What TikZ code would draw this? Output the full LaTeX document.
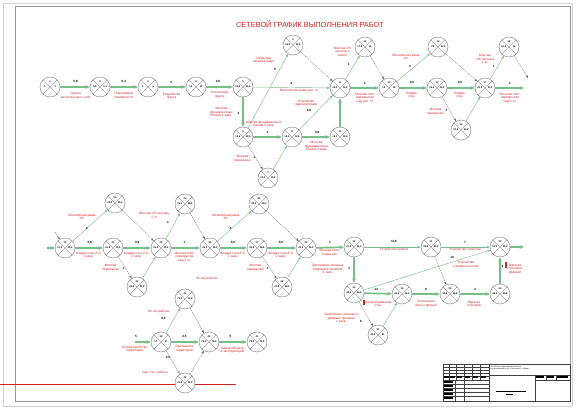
\documentclass[tikz,border=0pt]{standalone}
\usepackage{fontspec}
\setmainfont{Liberation Sans}
\usetikzlibrary{arrows.meta}
\definecolor{cgreen}{RGB}{120,190,135}
\definecolor{cred}{RGB}{210,35,35}
\definecolor{cgray}{RGB}{105,105,105}
\definecolor{frame}{RGB}{150,150,150}
\newcounter{lbc}
\newcommand\lbl[2]{\stepcounter{lbc}\node[lblst] (lb\thelbc) at (#1) {#2};}
\newcommand\dur[2]{\stepcounter{lbc}\node[durst] (du\thelbc) at (#1) {#2};}
\tikzset{
  evnum/.style={font=\fontsize{3.5}{3.7}\selectfont\bfseries, inner sep=0pt},
  ev/.style n args={3}{circle, draw=cgray, line width=0.5pt, minimum size=10mm, inner sep=0pt, fill=white,
    path picture={
      \draw[cgray, line width=0.4pt] (path picture bounding box.north west) -- (path picture bounding box.south east)
        (path picture bounding box.north east) -- (path picture bounding box.south west);
      \node[evnum] at ([yshift=2.7mm]path picture bounding box.center) {#1};
      \node[evnum] at ([xshift=-2.6mm]path picture bounding box.center) {#2};
      \node[evnum] at ([xshift=2.6mm]path picture bounding box.center) {#3};
    }},
  crit/.style={draw=cgreen, line width=2.4pt, -{Stealth[length=2.2mm,width=1.9mm]}},
  work/.style={draw=cgreen, line width=0.6pt, -{Stealth[length=1.6mm,width=1.2mm]}},
  dep/.style={draw=cgray, line width=0.4pt, dash pattern=on 2pt off 1pt, -{Stealth[length=1.5mm,width=1.1mm]}},
  lblst/.style={text=cred, font=\fontsize{4.6}{5.2}\selectfont, align=center, inner sep=0pt},
  durst/.style={font=\fontsize{4.4}{5}\selectfont\bfseries, inner sep=0pt},
  tb/.style={line width=0.35pt, draw=black!75},
}
\begin{document}
\begin{tikzpicture}[x=0.5mm,y=-0.5mm]
\useasboundingbox (0,0) rectangle (576,410);
\fill[white] (0,0) rectangle (576,410);
% frames
\draw[line width=1.6pt, gray!35] (3.5,3.5) rectangle (572.5,406.5);
\draw[line width=0.6pt, frame] (15.5,6) rectangle (570,401.5);
% red line
\draw[cred, line width=0.4pt] (0,384) -- (236,384);
% title
\node[text=cred, font=\fontsize{10.5}{12}\selectfont] (title) at (310,24) {СЕТЕВОЙ ГРАФИК ВЫПОЛНЕНИЯ РАБОТ};

% ---------- events, row 1
\node[ev={1}{0}{0}] (n1) at (50,87) {};
\node[ev={2}{5,6}{5,6}] (n2) at (100,87) {};
\node[ev={3}{6}{6}] (n3) at (148,87) {};
\node[ev={4}{10}{10}] (n4) at (196,87) {};
\node[ev={5}{10,6}{10,6}] (n5) at (243,87) {};
\node[ev={9}{15,6}{22,6}] (n6) at (293,45) {};
\node[ev={6}{12,6}{12,6}] (n7) at (243,137) {};
\node[ev={7}{13,6}{14,6}] (n7b) at (268,178) {};
\node[ev={8}{14,6}{14,6}] (n8) at (292,137) {};
\node[ev={10}{15,4}{15,4}] (n9) at (340,137) {};
\node[ev={11}{16,2}{16,2}] (n10) at (340,88) {};
\node[ev={12}{17,2}{19}] (n11) at (365,47) {};
\node[ev={13}{19}{19}] (n12) at (389,88) {};
\node[ev={14}{23}{24,2}] (n13) at (438,47) {};
\node[ev={15}{19,6}{19,6}] (n14) at (437,88) {};
\node[ev={16}{20,6}{20,2}] (n15) at (461,130) {};
\node[ev={17}{20,2}{20,2}] (n16) at (485,88) {};
\node[ev={18}{21,2}{22}] (n17) at (509,47) {};
\coordinate (e16) at (524,88);
\coordinate (e17) at (528,78);

% ---------- events, row 2
\coordinate (s2) at (47,248);
\coordinate (s2b) at (55,232);
\node[ev={19}{21,2}{21,2}] (a) at (65,248) {};
\node[ev={20}{25,2}{25,2}] (c) at (115,203) {};
\node[ev={21}{21,8}{21,8}] (b) at (113,248) {};
\node[ev={22}{22,8}{23,4}] (d) at (137,287) {};
\node[ev={23}{25,2}{25,2}] (e) at (161,248) {};
\node[ev={24}{26,2}{26,2}] (f) at (185,204) {};
\node[ev={25}{26,2}{26,2}] (g) at (210,248) {};
\node[ev={26}{30,2}{30,2}] (i) at (259,204) {};
\node[ev={27}{26,8}{26,8}] (h) at (257,248) {};
\node[ev={28}{27,8}{28,4}] (j) at (282,287) {};
\node[ev={29}{30,2}{30,2}] (k) at (306,248) {};
\node[ev={30}{31,2}{31,2}] (l) at (354,247) {};
\node[ev={31}{42,8}{43,2}] (m) at (431,247) {};
\node[ev={32}{50,2}{50,2}] (nn) at (500,247) {};
\node[ev={33}{34,2}{34,2}] (o) at (354,293) {};
\node[ev={34}{46,2}{46,2}] (p) at (402,294) {};
\node[ev={35}{42,8}{42,8}] (q) at (450,294) {};
\node[ev={36}{46,8}{46,8}] (r) at (500,294) {};
\node[ev={37}{40,2}{41}] (s) at (378,335) {};
\coordinate (e2) at (524,247);

% ---------- events, bottom group
\coordinate (s3) at (135,342);
\node[ev={39}{73,8}{73,8}] (t) at (185,299) {};
\node[ev={38}{57}{57}] (u) at (161,342) {};
\node[ev={40}{74,3}{74,3}] (v) at (209,342) {};
\node[ev={41}{79,3}{79,3}] (w) at (257,342) {};
\node[ev={42}{74,3}{74,3}] (x) at (185,383) {};

% ---------- connectors, row 1
\draw[crit] (n1) -- (n2);
\draw[crit] (n2) -- (n3);
\draw[crit] (n3) -- (n4);
\draw[crit] (n4) -- (n5);
\draw[work] (n5) -- (n10);
\draw[crit] (n5) -- (n7);
\draw[work] (n7) -- (n6);
\draw[dep] (n6) -- (n10);
\draw[crit] (n7) -- (n8);
\draw[dep] (n7) -- (n7b);
\draw[work] (n7b) -- (n8);
\draw[crit] (n8) -- (n9);
\draw[work] (n8) -- (n10);
\draw[crit] (n9) -- (n10);
\draw[work] (n10) -- (n11);
\draw[dep] (n11) -- (n12);
\draw[crit] (n10) -- (n12);
\draw[work] (n12) -- (n13);
\draw[dep] (n13) -- (n16);
\draw[crit] (n12) -- (n14);
\draw[crit] (n14) -- (n16);
\draw[dep] (n14) -- (n15);
\draw[work] (n15) -- (n16);
\draw[work] (n16) -- (n17);
\draw[dep] (n17) -- (e17);
\draw[crit] (n16) -- (e16);

% ---------- connectors, row 2
\draw[crit] (s2) -- (a);
\draw[dep] (s2b) -- (a);
\draw[work] (a) -- (c);
\draw[dep] (c) -- (e);
\draw[crit] (a) -- (b);
\draw[crit] (b) -- (e);
\draw[dep] (b) -- (d);
\draw[work] (d) -- (e);
\draw[work] (e) -- (f);
\draw[dep] (f) -- (g);
\draw[crit] (e) -- (g);
\draw[work] (g) -- (i);
\draw[dep] (i) -- (k);
\draw[crit] (g) -- (h);
\draw[crit] (h) -- (k);
\draw[dep] (h) -- (j);
\draw[work] (j) -- (k);
\draw[crit] (k) -- (l);
\draw[work] (l) -- (m);
\draw[work] (m) -- (nn);
\draw[dep] (m) -- (q);
\draw[crit] (l) -- (o);
\draw[work] (o) -- (nn);
\draw[crit] (o) -- (p);
\draw[dep] (o) -- (s);
\draw[work] (s) -- (p);
\draw[crit] (p) -- (q);
\draw[crit] (q) -- (r);
\draw[crit] (r) -- (nn);
\draw[crit] (nn) -- (e2);

% ---------- connectors, bottom
\draw[crit] (s3) -- (u);
\draw[work] (u) -- (t);
\draw[dep] (t) -- (v);
\draw[crit] (u) -- (v);
\draw[work] (u) -- (x);
\draw[dep] (x) -- (v);
\draw[crit] (v) -- (w);

% ---------- labels, row 1
\dur{75.6,82}{5,6}
\lbl{75.6,96}{Срезка\\растительного слоя}
\dur{123.6,82}{0,4}
\lbl{123.6,96}{Планировка\\поверхности}
\dur{171,82}{4}
\lbl{171.6,96}{Разработка\\грунта}
\dur{218,82}{0,6}
\lbl{219.6,95}{Уплотнение\\грунта}
\dur{291.5,83}{4}
\lbl{299,91}{Монолитная рама  цок. эт}
\dur{238.5,113}{2}
\lbl{221.4,112}{Монтаж\\фундаментных\\блоков 1 захв.}
\lbl{263.8,60}{Обратная\\засыпка пазух}
\dur{275,69}{9}
\lbl{263.8,124}{Монтаж фундаментных\\блоков 2 захв.}
\dur{267.5,132.5}{1}
\lbl{242.4,159}{Монтаж\\перемычек}
\dur{254.6,157}{1}
\dur{317.3,132.5}{0,8}
\lbl{316.6,146}{Монтаж\\фундаментных\\блоков 3 захв.}
\lbl{306,103}{Устройство\\гидроизоляции}
\dur{309,111}{0,8}
\lbl{342.4,52}{Монтаж л/б\\лестниц и\\цокол}
\dur{348.7,64}{1}
\dur{365,83}{1}
\lbl{365,98}{Монтаж плит\\перекрытия\\над цок. эт}
\lbl{406,57}{Монолитная рама\\1эт.}
\dur{410,66}{4}
\dur{412,83}{0,6}
\lbl{411.4,95}{Кладка\\стен}
\dur{460,83}{0,6}
\lbl{459.4,95}{Кладка\\стен}
\lbl{435.4,112}{Монтаж\\перемычек}
\dur{446.5,110}{1}
\lbl{485,59}{Монтаж\\л/б лестниц\\1 эт.}
\dur{493.7,66}{1}
\dur{510,83}{1}
\lbl{510,98}{Монтаж плит\\перекрытия\\над 1 эт.}

% ---------- labels, row 2
\lbl{82,217}{Монолитная рама\\2эт}
\dur{86.7,228}{4}
\dur{89.7,242.5}{0,6}
\lbl{88.6,255}{Кладка стен 2 эт\\1 захв.}
\dur{137.3,242.5}{0,6}
\lbl{136.5,255}{Кладка стен 2 эт\\2 захв.}
\lbl{110.7,268}{Монтаж\\перемычек}
\dur{123.6,268}{1}
\lbl{154.2,215}{Монтаж л/б лестниц\\2 эт}
\dur{168,222}{1}
\dur{184.5,242.5}{1}
\lbl{184.5,257}{Монтаж плит\\перекрытия\\над 2 эт.}
\lbl{225.8,217}{Монолитная рама\\3эт}
\dur{230.6,228}{4}
\dur{233,242.5}{0,6}
\lbl{233,255}{Кладка стен 3 эт\\1 захв.}
\dur{281,242.5}{0,6}
\lbl{281,255}{Кладка стен 3 эт\\2 захв.}
\lbl{255.4,268}{Монтаж\\перемычек}
\dur{267.5,268}{1}
\dur{330,242.5}{1}
\lbl{329.5,253}{Монтаж плит\\покрытия}
\dur{394,242}{11,6}
\lbl{394,250}{Устройство кровли}
\dur{465,242}{7}
\lbl{465,250}{Устройство отмостки}
\lbl{327.7,269}{Заполнение оконных\\и дверных проемов\\1 захв.}
\dur{349,268}{3}
\dur{452,257}{10}
\lbl{466,264}{Устройство\\наливных полов}
\dur{376.4,289.5}{12}
\lbl{378,304}{Оштукатуривание\\стен}
\lbl{341.3,318}{Заполнение оконных и\\дверных проемов\\2 захв.}
\dur{361,321}{6}
\dur{426,289.5}{8}
\lbl{426,304}{Остекление\\окон и дверей}
\dur{475,289.5}{4}
\lbl{474,304}{Окраска\\потолков}
\dur{502.6,266}{9}
\lbl{515,269}{Окраска\\стен масл.\\краской}
\fill[cred] (362.5,299.5) rectangle (364.5,304.5);
\fill[cred] (505,262) rectangle (507.2,268);
\lbl{206.6,279}{Эл.тех.работы}

% ---------- labels, bottom
\dur{136,336.5}{5}
\lbl{134.7,349}{Благоустройство\\территории}
\lbl{158.7,312}{Эл.тех.работы}
\dur{163.5,318.5}{0,5}
\dur{184.5,336.5}{2,5}
\lbl{184.5,349}{Озеленение\\территории}
\dur{230.6,336.5}{5}
\lbl{232.5,350}{Сдача объекта\\в эксплуатацию}
\dur{168,358}{4,5}
\lbl{155,373}{Сан. тех. работы}

% ---------- title block
\draw[tb] (443,364) rectangle (570,401.5);
\draw[tb] (489,364) -- (489,401.5);
\foreach \xx in {449,456,464,472,480} \draw[tb, line width=0.25pt] (\xx,364) -- (\xx,380);
\foreach \yy in {367,370,373,376,380} \draw[tb, line width=0.25pt] (443,\yy) -- (489,\yy);
\foreach \xx in {443,449,456,464,472,480} \fill[black] (\xx+0.8,375.8) rectangle (\xx+6,377.6);
\draw[tb, line width=0.25pt] (455,380) -- (455,401.5);
\draw[tb, line width=0.25pt] (464,380) -- (464,401.5);
\foreach \yy in {384,388,392,396} \draw[tb, line width=0.25pt] (443,\yy) -- (489,\yy);
\foreach \yy in {381,385,389,393,397} \fill[black] (444,\yy) rectangle (452.5,\yy+2.2);
\draw[tb, line width=0.25pt] (489,375) -- (570,375);
\draw[tb, line width=0.25pt] (535,375) -- (535,401.5);
\draw[tb, line width=0.25pt] (535,380) -- (570,380);
\draw[tb, line width=0.25pt] (546,375) -- (546,380);
\draw[tb, line width=0.25pt] (556,375) -- (556,380);
\fill[black] (536,376) rectangle (544,377.5);
\fill[black] (547,376) rectangle (554,377.5);
\fill[black] (557,376) rectangle (568,377.5);
\fill[black] (496,391) rectangle (526,392.3);
\fill[black] (506,394) rectangle (513,395.3);
\node[anchor=north west, inner sep=0pt, align=left, font=\fontsize{2.6}{3.2}\selectfont] (tbtext) at (490.5,366) {Жилой (многоквартирный) комплекс,\\расположенный по ул. Советская в г. Абакан};
\end{tikzpicture}
\end{document}
